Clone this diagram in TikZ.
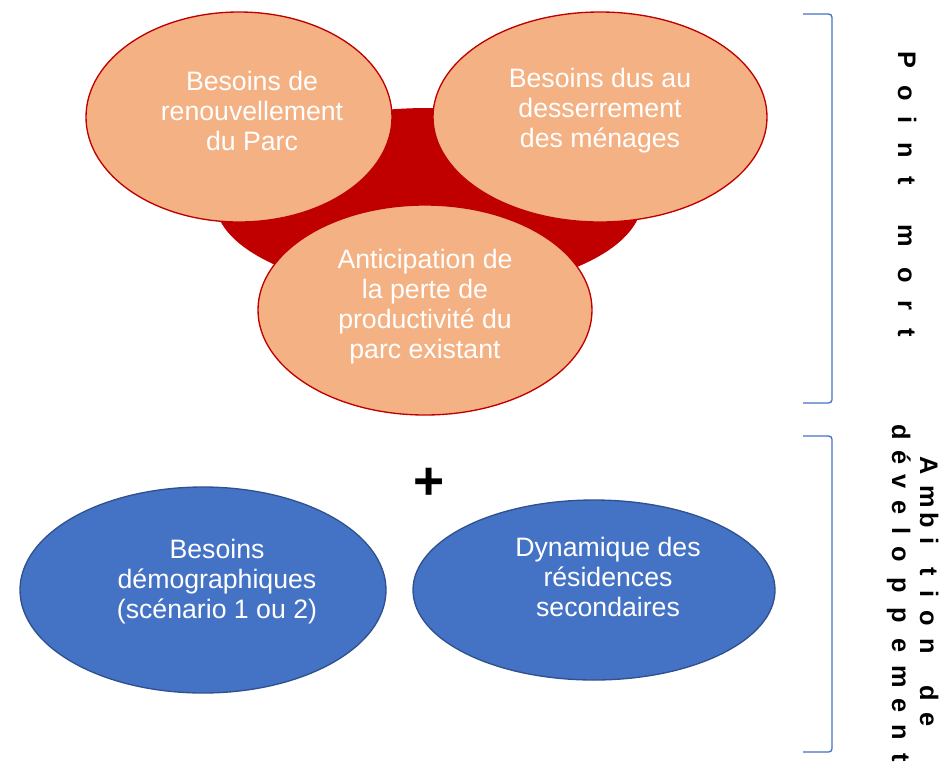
\documentclass[tikz,border=0pt]{standalone}
\usepackage{fontspec}
\setmainfont{Liberation Sans}
\usetikzlibrary{shapes.geometric}
\definecolor{peach}{HTML}{F4B183}
\definecolor{darkred}{HTML}{C00000}
\definecolor{midblue}{HTML}{4472C4}
\definecolor{edgeblue}{HTML}{2F528F}
\tikzset{
  blob/.style={ellipse, inner sep=0pt, line width=1pt},
  peachblob/.style={blob, draw=darkred, fill=peach},
  blueblob/.style={blob, draw=edgeblue, fill=midblue},
  blobtext/.style={text=white, align=center, font=\fontsize{20}{22.5}\selectfont},
  vletter/.style={rotate=-90, anchor=base, inner sep=0pt, font=\fontsize{19}{19}\selectfont\bfseries},
  bracket/.style={draw=midblue, line width=1pt, rounded corners=2.5pt}
}
\begin{document}
\begin{tikzpicture}[x=0.75pt,y=-0.75pt]
  \useasboundingbox (0,0) rectangle (942,761);
  % red core behind the three needs
  \node[ellipse, fill=darkred, inner sep=0pt, minimum width=320.25pt, minimum height=138.75pt] (core) at (428.5,200.5) {};
  % point mort
  \node[peachblob, minimum width=229.5pt, minimum height=157.5pt] (renouv) at (239,117) {};
  \node[blobtext] (renouvtxt) at (252,111) {Besoins de\\renouvellement\\du Parc};
  \node[peachblob, minimum width=250.5pt, minimum height=157.5pt] (desserr) at (600,117) {};
  \node[blobtext] (desserrtxt) at (600,111) {Besoins dus au\\desserrement\\des ménages};
  \node[peachblob, minimum width=250.5pt, minimum height=157.5pt] (perte) at (425,310) {};
  \node[blobtext] (pertetxt) at (425,307) {Anticipation de\\la perte de\\productivité du\\parc existant};
  % ambition de developpement
  \node[font=\bfseries\fontsize{40}{40}\selectfont] (plus) at (429,484) {+};
  \node[blueblob, minimum width=274.5pt, minimum height=154.5pt] (demo) at (203,590) {};
  \node[blobtext] (demotxt) at (217,582) {Besoins\\démographiques\\(scénario 1 ou 2)};
  \node[blueblob, minimum width=271.5pt, minimum height=135pt] (resid) at (594,590) {};
  \node[blobtext] (residtxt) at (608,577) {Dynamique des\\résidences\\secondaires};
  % brackets
  \draw[bracket] (803,14) -- (832,14) -- (832,403) -- (803,403);
  \draw[bracket] (803,436) -- (832,436) -- (832,752) -- (803,752);
  % vertical labels
  \foreach \ch/\py [count=\i] in {P/60,o/93,i/120,n/150,t/181,m/236,o/275,r/305,t/333}
    \node[vletter] (pm\i) at (898,\py) {\ch};
  \foreach \ch/\py [count=\i] in {A/466,m/497,b/520,i/541,t/572,i/594,o/618,n/646,d/693,e/720}
    \node[vletter] (amb\i) at (920,\py) {\ch};
  \foreach \ch/\py [count=\i] in {d/432,é/458,v/482,e/508,l/531,o/554,p/585,p/615,e/646,m/677,e/706,n/732,t/758}
    \node[vletter] (dev\i) at (892,\py) {\ch};
\end{tikzpicture}
\end{document}
